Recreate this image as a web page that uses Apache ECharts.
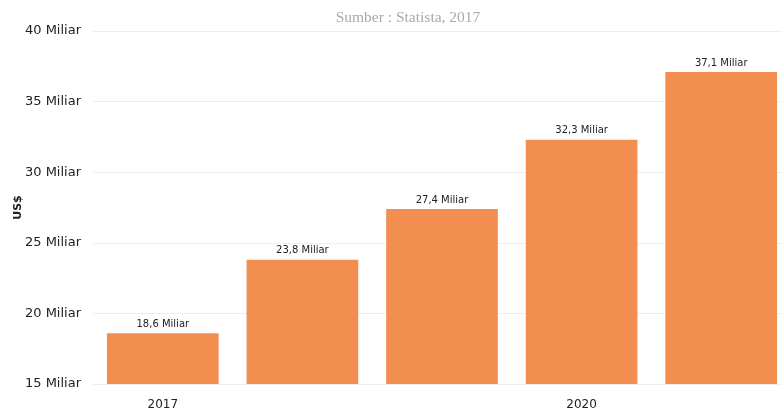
<!DOCTYPE html>
<html><head><meta charset="utf-8">
<script src="https://cdn.jsdelivr.net/npm/echarts@6/dist/echarts.min.js"></script>
<style>html,body{margin:0;padding:0;background:#fff}#c{width:782px;height:412px}</style>
</head><body><div id="c"></div>
<script>
const categories = ['2017', '2018', '2019', '2020', '2021'];
const values = [18.6, 23.8, 27.4, 32.3, 37.1];
const yTicks = [15, 20, 25, 30, 35, 40];

const chart = echarts.init(document.getElementById('c'));
chart.setOption({
  animation: false,
  backgroundColor: '#fff',
  title: {
    text: 'Sumber : Statista, 2017',
    left: 403, top: 5, textAlign: 'center',
    textStyle: { fontFamily: 'Liberation Serif', fontSize: 15.5, fontWeight: 'normal', color: '#aaaaaa' }
  },
  grid: { left: 93, top: 31, width: 698, height: 353, containLabel: false, outerBoundsMode: 'none' },
  xAxis: {
    type: 'category', data: categories,
    axisLine: { lineStyle: { color: '#eeeeee' } },
    axisTick: { show: false },
    axisLabel: { interval: 2, color: '#222', fontFamily: 'DejaVu Sans', fontSize: 12, margin: 15 }
  },
  yAxis: {
    type: 'value', min: yTicks[0], max: yTicks[yTicks.length - 1], interval: 5,
    name: 'US$', nameLocation: 'middle', nameGap: 69, nameRotate: 90, nameMoveOverlap: false,
    nameTextStyle: { fontFamily: 'DejaVu Sans', fontSize: 11, fontWeight: 'bold', color: '#222' },
    axisLine: { show: false }, axisTick: { show: false },
    splitLine: { lineStyle: { color: '#eeeeee' } },
    axisLabel: { color: '#222', fontFamily: 'DejaVu Sans', fontSize: 13, margin: 12,
      formatter: v => v + ' Miliar' }
  },
  series: [{
    type: 'bar', data: values, barWidth: '80%',
    itemStyle: { color: '#F28E50' },
    label: { show: true, position: 'top', distance: 4, color: '#222', fontFamily: 'DejaVu Sans', fontSize: 10,
      formatter: p => String(p.value).replace('.', ',') + ' Miliar' }
  }]
});
</script></body></html>
